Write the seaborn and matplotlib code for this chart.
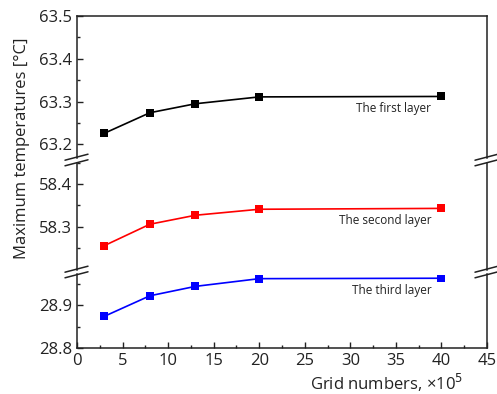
import numpy as np
import pandas as pd
import matplotlib
matplotlib.use("Agg")
import matplotlib.pyplot as plt
from matplotlib.lines import Line2D
from matplotlib.ticker import MultipleLocator
import seaborn as sns

# grid numbers (x10^5) and max temperature for each layer
grid = [3, 8, 13, 20, 40]
first_layer = [63.226, 63.274, 63.295, 63.311, 63.312]
second_layer = [58.256, 58.306, 58.327, 58.341, 58.343]
third_layer = [28.874, 28.922, 28.944, 28.962, 28.963]
layer_names = ['The first layer', 'The second layer', 'The third layer']
layer_colors = ['black', 'red', 'blue']

sns.set_style('ticks')
plt.rcParams['font.family'] = ['Open Sans', 'DejaVu Sans']

W, H = 497, 394
fig = plt.figure(figsize=(W / 100, H / 100), dpi=100)

left_px, right_px = 77, 487
k = 428.0  # pixels per degree
gap = 2.5
# (top px, bottom px, reference value, reference px)
segments = [
    (16, 160 - gap, 63.5, 16),
    (160 + gap, 272 - gap, 58.4, 184),
    (272 + gap, 348, 28.8, 348),
]
major_ticks = [[63.2, 63.3, 63.4, 63.5], [58.3, 58.4], [28.8, 28.9]]

df = pd.DataFrame({'grid': grid, 'l1': first_layer, 'l2': second_layer, 'l3': third_layer})
cols = ['l1', 'l2', 'l3']

axes = []
for i, (top, bot, ref_v, ref_p) in enumerate(segments):
    ax = fig.add_axes([left_px / W, 1 - bot / H, (right_px - left_px) / W, (bot - top) / H])
    ylo = ref_v - (bot - ref_p) / k
    yhi = ref_v + (ref_p - top) / k
    sns.lineplot(data=df, x='grid', y=cols[i], ax=ax, color=layer_colors[i], marker='s',
                 markersize=5.5, markeredgewidth=0, linewidth=1.2)
    ax.annotate(layer_names[i], (grid[-1], df[cols[i]].iloc[-1]), xytext=(-10, -12),
                textcoords='offset pixels', ha='right', va='center', fontsize=8.5, color='#222222')
    ax.set_xlim(0, 45)
    ax.set_ylim(ylo, yhi)
    ax.set_yticks(major_ticks[i])
    ax.set_yticklabels([f'{v:.1f}' for v in major_ticks[i]])
    ax.yaxis.set_minor_locator(MultipleLocator(0.05))
    ax.xaxis.set_minor_locator(MultipleLocator(2.5))
    ax.set_xlabel('')
    ax.set_ylabel('')
    ax.tick_params(which='both', direction='in', right=False, top=False, colors='#222222',
                   labelsize=12, width=1.0)
    ax.tick_params(which='major', length=4.5)
    ax.tick_params(which='minor', length=2.5)
    for s in ax.spines.values():
        s.set_linewidth(1.1)
        s.set_color('#222222')
        s.set_visible(True)
    if i > 0:
        ax.spines['top'].set_visible(False)
    if i < 2:
        ax.spines['bottom'].set_visible(False)
        ax.tick_params(axis='x', which='both', bottom=False, labelbottom=False)
    else:
        ax.set_xticks(np.arange(0, 46, 5))
    ax.patch.set_alpha(0)
    axes.append(ax)

# break marks on both spines
for yb in [160, 272]:
    for xb in [left_px, right_px]:
        for dy in (-2.8, 2.8):
            x0, x1 = xb - 12, xb + 11
            y0, y1 = yb + dy + 3, yb + dy - 3
            fig.add_artist(Line2D([x0 / W, x1 / W], [1 - y0 / H, 1 - y1 / H],
                                  color='#222222', linewidth=1.1, transform=fig.transFigure))

fig.text(22 / W, 1 - 148 / H, 'Maximum temperatures [°C]', rotation=90, ha='center', va='center',
         fontsize=12, color='#222222')
fig.text(463 / W, 1 - 383 / H, 'Grid numbers, ×10$^5$', ha='right', va='center',
         fontsize=12, color='#222222')

fig.savefig('out.png', dpi=100)
